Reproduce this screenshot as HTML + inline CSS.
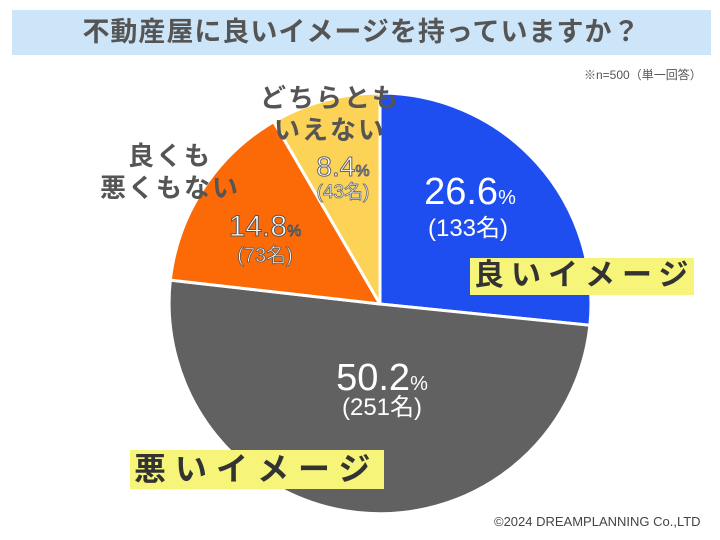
<!DOCTYPE html>
<html><head><meta charset="utf-8"><style>
body{margin:0;background:#fff;}
#w{position:relative;width:720px;height:540px;overflow:hidden;font-family:"Liberation Sans","Noto Sans CJK JP",sans-serif;}
.t{position:absolute;white-space:nowrap;}
</style></head><body><div id="w">
<div style="position:absolute;left:12px;top:10px;width:699px;height:45px;background:#cde5f8;"></div>
<div class="t" style="left:0;width:723px;top:13px;text-align:center;font-size:27px;font-weight:bold;color:#555;line-height:38px;letter-spacing:1px;">不動産屋に良いイメージを持っていますか？</div>
<div class="t" style="left:584px;top:66px;font-size:12px;color:#555;">※n=500（単一回答）</div>
<svg width="720" height="540" style="position:absolute;left:0;top:0">
<g stroke="#fff" stroke-width="3" stroke-linejoin="round">
<path d="M380,304 L380,93 A211,211 0 0 1 589.9,325.3 Z" fill="#1f4ef0"/>
<path d="M380,304 L589.9,325.3 A211,211 0 1 1 170.3,280.1 Z" fill="#616161"/>
<path d="M380,304 L170.3,280.1 A211,211 0 0 1 273.7,121.7 Z" fill="#fb6a06"/>
<path d="M380,304 L273.7,121.7 A211,211 0 0 1 380,93 Z" fill="#fdd357"/>
</g>
<g font-family="Liberation Sans, Noto Sans CJK JP, sans-serif" text-anchor="middle">
<text x="470" y="204" font-size="38" fill="#fff">26.6<tspan font-size="20">%</tspan></text>
<text x="468" y="236" font-size="24" fill="#fff">(133名)</text>
<text x="382" y="390" font-size="38" fill="#fff">50.2<tspan font-size="20">%</tspan></text>
<text x="382" y="415" font-size="24" fill="#fff">(251名)</text>
<text x="265" y="236" font-size="30" fill="#fff" stroke="#555" stroke-width="1">14.8<tspan font-size="16">%</tspan></text>
<text x="265" y="262" font-size="20" fill="#fff" stroke="#555" stroke-width="0.8">(73名)</text>
<text x="343" y="176" font-size="28" fill="#fff" stroke="#666" stroke-width="1">8.4<tspan font-size="16">%</tspan></text>
<text x="343" y="198" font-size="19" fill="#fff" stroke="#666" stroke-width="0.8">(43名)</text>
</g>
</svg>
<div class="t" style="left:470px;top:258px;width:224px;height:37px;background:#f6f57a;"></div>
<div class="t" style="left:474px;top:256px;font-size:30px;font-weight:bold;color:#333;line-height:40px;letter-spacing:7px;">良いイメージ</div>
<div class="t" style="left:130px;top:450px;width:254px;height:39px;background:#f6f57a;"></div>
<div class="t" style="left:134px;top:449px;font-size:32px;font-weight:bold;color:#333;line-height:40px;letter-spacing:9px;">悪いイメージ</div>
<div class="t" style="left:100px;top:140px;font-size:26px;font-weight:bold;color:#555;line-height:32px;text-align:center;width:140px;letter-spacing:2px;">良くも<br>悪くもない</div>
<div class="t" style="left:245px;top:82px;font-size:26px;font-weight:bold;color:#555;line-height:32px;text-align:center;width:170px;letter-spacing:2px;">どちらとも<br>いえない</div>
<div class="t" style="left:494px;top:514px;font-size:13px;color:#444;">©2024 DREAMPLANNING Co.,LTD</div>
</div></body></html>
